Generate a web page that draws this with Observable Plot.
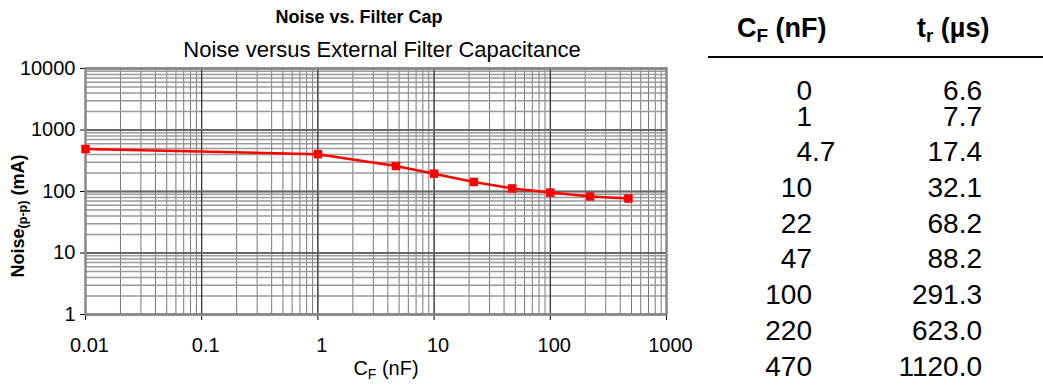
<!DOCTYPE html>
<html><head><meta charset="utf-8">
<script src="https://cdn.jsdelivr.net/npm/d3@7"></script>
<script src="https://cdn.jsdelivr.net/npm/@observablehq/plot@0.6"></script>
<style>
body{margin:0;background:#fff;font-family:"Liberation Sans",Arial,sans-serif;color:#000;}
#wrap{position:relative;width:1043px;height:385px;overflow:hidden;background:#fff;}
#chart{position:absolute;left:0;top:0;}
.abs{position:absolute;white-space:nowrap;}
#t1{left:209px;width:300px;top:8px;text-align:center;font-weight:bold;font-size:18px;line-height:18px;}
#t2{left:182px;width:400px;top:39px;text-align:center;font-size:22px;line-height:22px;}
#xl{left:286px;width:200px;top:358px;text-align:center;font-size:20px;line-height:20px;}
#yl{left:-82px;width:200px;top:207px;height:18px;text-align:center;font-weight:bold;font-size:18px;line-height:18px;transform:rotate(-90deg);transform-origin:100px 9px;}
sub{font-size:0.7em;vertical-align:-0.25em;line-height:0;}
#hline{left:708px;top:56px;width:335px;height:2px;background:#000;}
.hd{font-weight:bold;font-size:27px;line-height:27px;top:15px;}
#rows{position:absolute;left:700px;top:73px;}
.row{height:35.7px;line-height:35.7px;font-size:28px;white-space:nowrap;}
.row:first-child{margin-bottom:-10px;}
.c1i{display:inline-block;width:112px;text-align:right;}
.c1f{display:inline-block;width:60px;text-align:left;}
.c2{display:inline-block;width:110px;text-align:right;}
</style></head>
<body>
<div id="wrap">
  <div id="chart"></div>
  <div class="abs" id="t1">Noise vs. Filter Cap</div>
  <div class="abs" id="t2">Noise versus External Filter Capacitance</div>
  <div class="abs" id="xl">C<sub>F</sub> (nF)</div>
  <div class="abs" id="yl">Noise<sub>(p-p)</sub> (mA)</div>
  <div class="abs hd" style="left:737px">C<sub>F</sub> (nF)</div>
  <div class="abs hd" style="left:917px">t<sub>r</sub> (µs)</div>
  <div class="abs" id="hline"></div>
  <div id="rows"></div>
</div>
<script>
// Chart data (CF = 0 is plotted at 0.01 nF on the log axis)
const cf = [0.01, 1, 4.7, 10, 22, 47, 100, 220, 470];
const noise = [490, 405, 260, 195, 143, 112, 96, 83, 77];
const xTicks = [0.01, 0.1, 1, 10, 100, 1000];
const yTicks = [1, 10, 100, 1000, 10000];
// Table data
const tableCF = ["0", "1", "4.7", "10", "22", "47", "100", "220", "470"];
const tableTr = ["6.6", "7.7", "17.4", "32.1", "68.2", "88.2", "291.3", "623.0", "1120.0"];

const data = cf.map((c, i) => ({cf: c, noise: noise[i]}));
const xMinor = d3.scaleLog().domain([xTicks[0], xTicks[xTicks.length - 1]]).ticks();
const yMinor = d3.scaleLog().domain([yTicks[0], yTicks[yTicks.length - 1]]).ticks();

const chart = Plot.plot({
  width: 700, height: 385,
  marginLeft: 85, marginRight: 34, marginTop: 68, marginBottom: 71,
  style: {fontFamily: '"Liberation Sans", Arial, sans-serif', fontSize: "20px", color: "#000", background: "#fff", overflow: "visible"},
  x: {type: "log", domain: [xTicks[0], xTicks[xTicks.length - 1]], ticks: xTicks, tickFormat: d => String(d), tickSize: 6, tickPadding: 17, label: null},
  y: {type: "log", domain: [yTicks[0], yTicks[yTicks.length - 1]], ticks: yTicks, tickFormat: d => String(d), tickSize: 5, tickPadding: 5, label: null},
  marks: [
    Plot.ruleX(xMinor, {stroke: "#777", strokeWidth: 1}),
    Plot.ruleY(yMinor, {stroke: "#999", strokeWidth: 1.5}),
    Plot.ruleX(xTicks, {stroke: "#222", strokeWidth: 1}),
    Plot.ruleY(yTicks, {stroke: "#666", strokeWidth: 2}),
    Plot.frame({stroke: "#888", strokeWidth: 2.5}),
    Plot.line(data, {x: "cf", y: "noise", stroke: "#ff0000", strokeWidth: 2.5}),
    Plot.dot(data, {x: "cf", y: "noise", symbol: "square", fill: "#ff0000", r: 4.8})
  ]
});
document.getElementById("chart").appendChild(chart);
const xLab = chart.querySelector('g[aria-label="x-axis tick label"]');
if (xLab) xLab.setAttribute("transform", (xLab.getAttribute("transform") || "") + " translate(4,0)");

const rows = document.getElementById("rows");
tableCF.forEach((c, i) => {
  const [ip, fp] = c.split(".");
  const r = document.createElement("div");
  r.className = "row";
  r.innerHTML = `<span class="c1i">${ip}</span><span class="c1f">${fp !== undefined ? "." + fp : ""}</span><span class="c2">${tableTr[i]}</span>`;
  rows.appendChild(r);
});
</script>
</body></html>
